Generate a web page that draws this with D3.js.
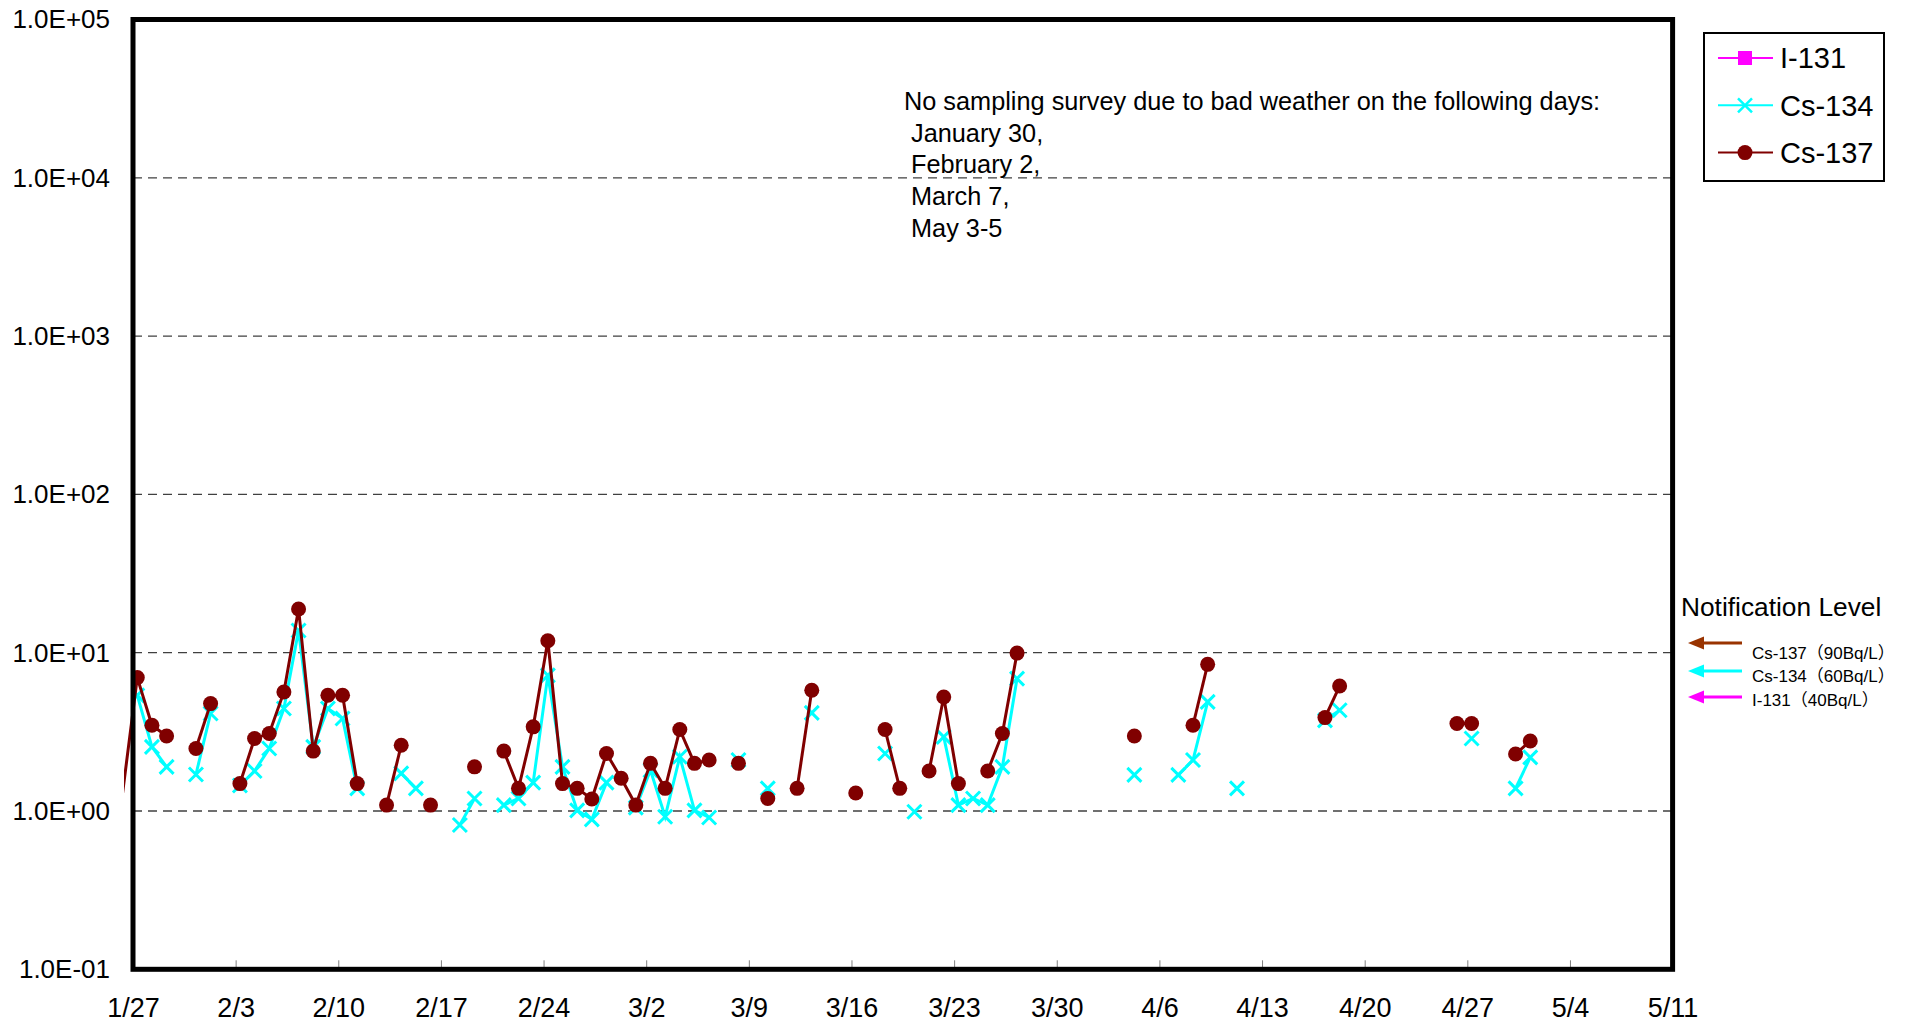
<html>
<head>
<style>
  body { margin: 0; background: #fff; }
  text { font-family: "Liberation Sans", Arial, "Noto Sans CJK JP", sans-serif; fill: #000; }
  .grid line { stroke: #404040; stroke-width: 1.3; stroke-dasharray: 9,6; }
</style>
</head>
<body>
<script src="https://d3js.org/d3.v7.min.js"></script>
<script>
// sampling dates (2012), values in Bq/L; null = not detected
var dates = ["1/26","1/27","1/28","1/29","1/31","2/1","2/3","2/4","2/5","2/6","2/7","2/8","2/9","2/10","2/11",
  "2/13","2/14","2/15","2/16","2/18","2/19","2/21","2/22","2/23","2/24","2/25","2/26","2/27","2/28","2/29",
  "3/1","3/2","3/3","3/4","3/5","3/6","3/8","3/10","3/12","3/13","3/16","3/18","3/19","3/20","3/21","3/22",
  "3/23","3/24","3/25","3/26","3/27","4/4","4/7","4/8","4/9","4/11","4/17","4/18","4/26","4/27","4/30","5/1"];

var cs137 = [1.3, 6.96, 3.48, 2.98, 2.48, 4.77, 1.49, 2.87, 3.09, 5.65, 18.9, 2.39, 5.38, 5.38, 1.49,
  1.09, 2.60, null, 1.09, null, 1.90, 2.39, 1.39, 3.40, 11.9, 1.49, 1.39, 1.19, 2.31, 1.61,
  1.09, 2.0, 1.39, 3.27, 2.0, 2.1, 2.0, 1.2, 1.39, 5.79, 1.3, 3.27, 1.39, null, 1.79, 5.25,
  1.49, null, 1.79, 3.09, 9.94, 2.98, null, 3.48, 8.44, null, 3.89, 6.16, 3.57, 3.57, 2.29, 2.77];

var cs134 = [null, 5.38, 2.54, 1.90, 1.70, 4.13, 1.45, 1.79, 2.48, 4.44, 13.8, 2.54, 4.44, 3.84, 1.39,
  null, 1.73, 1.39, null, 0.816, 1.20, 1.09, 1.20, 1.51, 7.19, 1.90, 1.01, 0.886, 1.51, null,
  1.05, 1.81, 0.92, 2.2, 1.01, 0.91, 2.1, 1.39, null, 4.17, null, 2.31, null, 0.99, null, 2.94,
  1.09, 1.2, 1.09, 1.9, 6.86, 1.69, 1.69, 2.1, 4.89, 1.39, 3.74, 4.33, null, 2.87, 1.39, 2.18];

var xTicks = ["1/27","2/3","2/10","2/17","2/24","3/2","3/9","3/16","3/23","3/30","4/6","4/13","4/20","4/27","5/4","5/11"];
var yTicks = [0.1, 1, 10, 100, 1000, 10000, 100000];
var yTickLabels = ["1.0E-01","1.0E+00","1.0E+01","1.0E+02","1.0E+03","1.0E+04","1.0E+05"];

var legendNames = ["I-131", "Cs-134", "Cs-137"];
var levelLabels = ["Cs-137（90Bq/L）", "Cs-134（60Bq/L）", "I-131（40Bq/L）"];
var noteLines = ["No sampling survey due to bad weather on the following days:",
  "January 30,", "February 2,", "March 7,", "May 3-5"];

var sampleHour = 7;
function parseDay(s, h) {
  var p = s.split("/");
  return new Date(2012, +p[0] - 1, +p[1], h || 0);
}

var width = 1908, height = 1025;
var plotL = 133, plotR = 1672.6, plotT = 19.5, plotB = 969.3;

var svg = d3.select("body").append("svg")
    .attr("width", width)
    .attr("height", height);

var x = d3.scaleTime()
    .domain([parseDay("1/27"), parseDay("5/11")])
    .range([plotL, plotR]);
var y = d3.scaleLog()
    .domain([0.1, 100000])
    .range([plotB, plotT]);

// gridlines
svg.append("g").attr("class", "grid")
  .selectAll("line")
  .data(yTicks.slice(1, -1))
  .enter().append("line")
    .attr("x1", plotL).attr("x2", plotR)
    .attr("y1", function(d) { return y(d); })
    .attr("y2", function(d) { return y(d); });

// y axis labels
var yAxis = svg.append("g")
    .attr("transform", "translate(" + plotL + ",0)")
    .call(d3.axisLeft(y).tickValues(yTicks).tickSize(0).tickPadding(23)
      .tickFormat(function(d, i) { return yTickLabels[i]; }));
yAxis.select(".domain").remove();
yAxis.selectAll("text").style("font-size", "26px").attr("font-family", null);

// x axis
var xAxis = svg.append("g")
    .attr("transform", "translate(0," + plotB + ")")
    .call(d3.axisBottom(x).tickValues(xTicks.map(function(s) { return parseDay(s); }))
      .tickSizeInner(-9).tickSizeOuter(0).tickPadding(29)
      .tickFormat(function(d, i) { return xTicks[i]; }));
xAxis.select(".domain").remove();
xAxis.selectAll("line").attr("stroke", "#808080").attr("stroke-width", 1);
xAxis.selectAll("text").style("font-size", "27px").attr("font-family", null);

// data
var rows = dates.map(function(s, i) {
  return { date: parseDay(s, sampleHour), day: parseDay(s), cs134: cs134[i], cs137: cs137[i] };
});

// consecutive sampling days form one connected run
function runs(key) {
  var out = [], cur = [];
  rows.forEach(function(r) {
    if (r[key] == null) { if (cur.length) out.push(cur); cur = []; return; }
    if (cur.length && (r.day - cur[cur.length - 1].day) > 36e5 * 30) { out.push(cur); cur = []; }
    cur.push(r);
  });
  if (cur.length) out.push(cur);
  return out;
}

var defs = svg.append("defs");
defs.append("clipPath").attr("id", "lineclip")
  .append("rect").attr("x", 124).attr("y", plotT).attr("width", plotR - 124).attr("height", plotB - plotT);
defs.append("clipPath").attr("id", "markclip")
  .append("rect").attr("x", 131).attr("y", plotT).attr("width", plotR - 131).attr("height", plotB - plotT);

var lines = svg.append("g").attr("clip-path", "url(#lineclip)");
var marks = svg.append("g").attr("clip-path", "url(#markclip)");

function lineFor(key) {
  return d3.line().x(function(d) { return x(d.date); }).y(function(d) { return y(d[key]); });
}

// Cs-134
lines.selectAll(".l134").data(runs("cs134")).enter().append("path")
    .attr("d", lineFor("cs134"))
    .attr("fill", "none").attr("stroke", "#00ffff").attr("stroke-width", 3);
marks.selectAll(".m134").data(rows.filter(function(r) { return r.cs134 != null; })).enter().append("path")
    .attr("transform", function(d) { return "translate(" + x(d.date) + "," + y(d.cs134) + ")"; })
    .attr("d", "M-7,-7L7,7M-7,7L7,-7")
    .attr("stroke", "#00ffff").attr("stroke-width", 3);

// Cs-137 drawn on top
var lines137 = svg.append("g").attr("clip-path", "url(#lineclip)");
var marks137 = svg.append("g").attr("clip-path", "url(#markclip)");
lines137.selectAll(".l137").data(runs("cs137")).enter().append("path")
    .attr("d", lineFor("cs137"))
    .attr("fill", "none").attr("stroke", "#800000").attr("stroke-width", 3);
marks137.selectAll(".m137").data(rows.filter(function(r) { return r.cs137 != null; })).enter().append("circle")
    .attr("cx", function(d) { return x(d.date); })
    .attr("cy", function(d) { return y(d.cs137); })
    .attr("r", 7.5)
    .attr("fill", "#800000");

// frame
svg.append("rect")
    .attr("x", plotL).attr("y", plotT)
    .attr("width", plotR - plotL).attr("height", plotB - plotT)
    .attr("fill", "none").attr("stroke", "#000").attr("stroke-width", 5);

// note
var note = svg.append("text").style("font-size", "25.3px");
note.selectAll("tspan").data(noteLines).enter().append("tspan")
    .attr("x", function(d, i) { return i ? 911 : 904; })
    .attr("y", function(d, i) { return 110 + i * 31.7; })
    .text(function(d) { return d; });

// legend
var colors = ["#ff00ff", "#00ffff", "#800000"];
var lg = svg.append("g");
lg.append("rect").attr("x", 1704).attr("y", 33).attr("width", 180).attr("height", 148)
    .attr("fill", "#fff").attr("stroke", "#000").attr("stroke-width", 2);
legendNames.forEach(function(name, i) {
  var cy = 58 + i * 47.3;
  lg.append("line").attr("x1", 1718).attr("x2", 1773).attr("y1", cy).attr("y2", cy)
      .attr("stroke", colors[i]).attr("stroke-width", 2);
  if (i === 0) {
    lg.append("rect").attr("x", 1738).attr("y", cy - 7).attr("width", 14).attr("height", 14).attr("fill", colors[i]);
  } else if (i === 1) {
    lg.append("path").attr("transform", "translate(1745," + cy + ")").attr("d", "M-7,-7L7,7M-7,7L7,-7")
        .attr("stroke", colors[i]).attr("stroke-width", 2.5);
  } else {
    lg.append("circle").attr("cx", 1745).attr("cy", cy).attr("r", 7.5).attr("fill", colors[i]);
  }
  lg.append("text").attr("x", 1780).attr("y", cy).attr("dy", "0.36em")
      .style("font-size", "29px").text(name);
});

// notification levels
svg.append("text").attr("x", 1681).attr("y", 616).style("font-size", "26.3px").text("Notification Level");
var arrowColors = ["#993300", "#00ffff", "#ff00ff"];
var arrowY = [643, 671, 697];
var labelY = [659, 682, 706];
levelLabels.forEach(function(lbl, i) {
  var ay = arrowY[i];
  svg.append("line").attr("x1", 1700).attr("x2", 1742).attr("y1", ay).attr("y2", ay)
      .attr("stroke", arrowColors[i]).attr("stroke-width", 3);
  svg.append("path").attr("d", "M1688," + ay + "L1704," + (ay - 6.5) + "L1704," + (ay + 6.5) + "Z")
      .attr("fill", arrowColors[i]);
  svg.append("text").attr("x", 1752).attr("y", labelY[i]).style("font-size", "17px").text(lbl);
});
</script>
</body>
</html>
